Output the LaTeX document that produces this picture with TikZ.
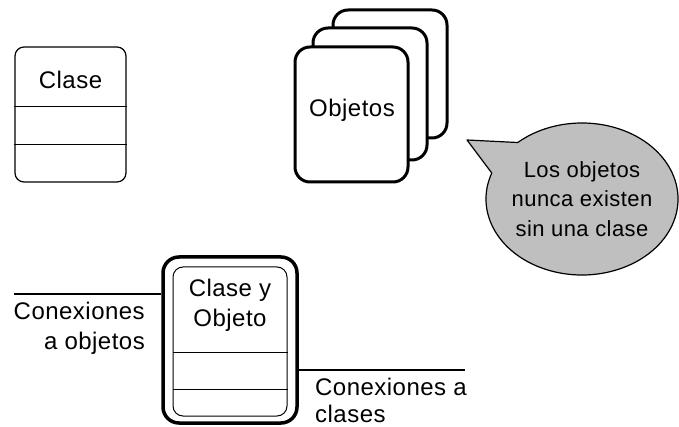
\documentclass[tikz,border=0pt]{standalone}
\usepackage{fontspec}
\setmainfont{Liberation Sans}[LetterSpace=2]
\usepackage{tikz}
\tikzset{
	caja/.style = {draw, line width=1.2pt, rounded corners=9pt, inner sep=0pt},
	tarjeta/.style = {draw, fill=white, line width=3pt, rounded corners=15pt, inner sep=0pt},
	texto/.style = {font=\fontsize{24}{30}\selectfont, inner sep=0pt},
	conexion/.style = {line width=2.5pt}
}

\begin{document}
\begin{tikzpicture}[x=1pt, y=-1pt]
		\useasboundingbox (0,0) rectangle (679,427);
		% clase sola
		\node [caja, minimum width=111pt, minimum height=135pt] (clase) at (70.5,114.5) {};
		\draw (clase.west |- 0,106)--(clase.east |- 0,106) (clase.west |- 0,144)--(clase.east |- 0,144);
		\node [texto] (claseTxt) at (70.5,80) {Clase};
		% objetos apilados
		\node [tarjeta, minimum width=114pt, minimum height=128pt] (obj3) at (390,74) {};
		\node [tarjeta, minimum width=114pt, minimum height=132pt] (obj2) at (370,94) {};
		\node [tarjeta, minimum width=113pt, minimum height=135pt] (obj1) at (351.5,114.5) {};
		\node [texto] (objTxt) at (352,110) {Objetos};
		% globo
		\coordinate (centroGlobo) at (582,199);
		\coordinate (puntaGlobo) at (467,140);
		\draw [fill=gray!50, line width=1.2pt, line join=round] (centroGlobo) ++(228:96 and 76) -- (puntaGlobo)
			-- ([shift={(200:96 and 76)}]centroGlobo) arc [start angle=200, end angle=-132, x radius=96, y radius=76] -- cycle;
		\node [align=center, inner sep=0pt, font=\fontsize{22}{29.5}\selectfont] (nota) at (centroGlobo) {Los objetos\\nunca existen\\sin una clase};
		% clase y objeto
		\node [draw, line width=3.5pt, rounded corners=16pt, minimum width=134pt, minimum height=166pt, inner sep=0pt] (cyo) at (230,340) {};
		\node [draw, line width=1pt, rounded corners=10pt, minimum width=114pt, minimum height=149pt, inner sep=0pt] (cyoIn) at (230,341.5) {};
		\draw (cyoIn.west |- 0,352)--(cyoIn.east |- 0,352) (cyoIn.west |- 0,389)--(cyoIn.east |- 0,389);
		\node [texto, align=center] (cyoTxt) at (230,305) {Clase y\\Objeto};
		% conexiones
		\coordinate (finIzq) at (14,294);
		\coordinate (finDer) at (465,370);
		\draw [conexion] (cyo.west |- finIzq)--(finIzq);
		\draw [conexion] (cyo.east |- finDer)--(finDer);
		\node [texto, align=right, anchor=north east] (conObj) at (145,302) {Conexiones\\a objetos};
		\node [texto, align=left, anchor=north west, font=\fontsize{24}{27}\selectfont] (conCla) at (315,378) {Conexiones a\\clases};
	\end{tikzpicture}
\end{document}
